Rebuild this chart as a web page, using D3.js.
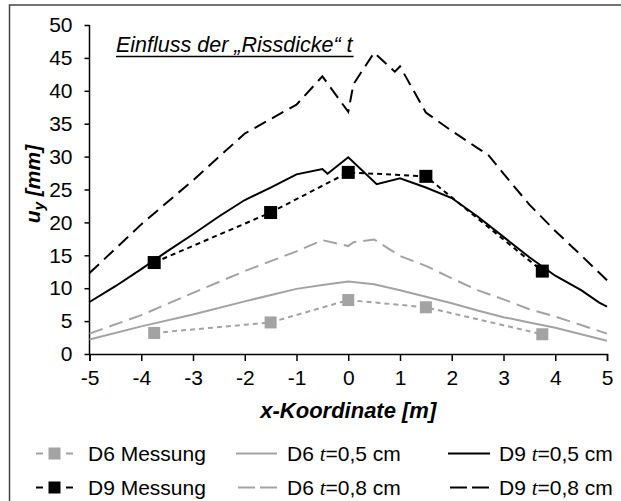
<!DOCTYPE html>
<html>
<head>
<meta charset="utf-8">
<script src="https://cdn.jsdelivr.net/npm/d3@7"></script>
<style>
  html, body { margin: 0; padding: 0; background: #fff; }
  svg { display: block; }
  text { font-family: "Liberation Sans", Arial, sans-serif; fill: #000; }
</style>
</head>
<body>
<svg id="chart" width="621" height="501"></svg>
<script>
// Vertical displacement u_y along the x-coordinate, D6 and D9
const xTicks = [-5, -4, -3, -2, -1, 0, 1, 2, 3, 4, 5];
const yTicks = [0, 5, 10, 15, 20, 25, 30, 35, 40, 45, 50];

// Measurements
const messX = [-3.75, -1.5, 0, 1.5, 3.75];
const d6Mess = [3.2, 4.8, 8.2, 7.1, 3.0];
const d9Mess = [13.9, 21.5, 27.6, 27.0, 12.6];

// D6, t = 0,5 cm
const d6t05X = [-5, -4, -3, -2, -1, -0.5, 0, 0.5, 1, 1.5, 2, 2.5, 3, 3.5, 4, 4.5, 5];
const d6t05Y = [2.2, 4.2, 6.0, 8.0, 9.9, 10.5, 11.0, 10.6, 9.7, 8.7, 7.7, 6.6, 5.6, 4.8, 4.0, 3.0, 2.0];

// D6, t = 0,8 cm
const d6t08X = [-5, -4, -3, -2, -1, -0.5, 0, 0.1, 0.5, 1, 1.5, 2, 2.5, 3, 3.5, 4, 4.5, 5];
const d6t08Y = [3.1, 5.9, 9.3, 12.6, 15.6, 17.3, 16.4, 17.0, 17.4, 14.9, 13.4, 11.5, 9.7, 8.3, 6.8, 5.7, 4.4, 3.1];

// D9, t = 0,5 cm
const d9t05X = [-5, -4.5, -4, -3.5, -3, -2.5, -2, -1.5, -1, -0.5, -0.4, 0, 0.55, 1, 1.5, 2, 2.5, 3, 3.5, 4, 4.5, 4.85, 5];
const d9t05Y = [7.9, 10.3, 12.9, 15.6, 18.2, 20.9, 23.4, 25.3, 27.3, 28.1, 27.4, 29.9, 25.8, 26.7, 25.3, 23.7, 20.9, 17.8, 14.7, 11.9, 9.7, 7.8, 7.2];

// D9, t = 0,8 cm
const d9t08X = [-5, -4, -3, -2, -1, -0.5, 0, 0.1, 0.5, 0.9, 1, 1.5, 2, 2.5, 2.7, 3, 3.5, 4, 4.5, 5];
const d9t08Y = [12.3, 19.7, 26.4, 33.5, 37.9, 42.2, 36.8, 41.0, 45.8, 42.9, 43.7, 36.7, 33.9, 31.3, 30.3, 27.4, 22.7, 18.7, 15.0, 11.2];

const GREY = "#a3a3a3";
const BLACK = "#000";

const svg = d3.select("#chart");

// outer frame
svg.append("rect")
  .attr("x", 9.5).attr("y", 5)
  .attr("width", 640).attr("height", 520)
  .attr("fill", "none").attr("stroke", "#444").attr("stroke-width", 1.5);

const x = d3.scaleLinear().domain([-5, 5]).range([89.5, 607]);
const y = d3.scaleLinear().domain([0, 50]).range([354, 25]);

// axes
const yAxis = d3.axisLeft(y).tickValues(yTicks).tickSize(5).tickPadding(12).tickFormat(d3.format("d"));
const gy = svg.append("g").attr("transform", `translate(${x(-5)},0)`).call(yAxis);
gy.select(".domain").attr("stroke", BLACK).attr("stroke-width", 1.5);
gy.selectAll(".tick line").attr("stroke", BLACK).attr("stroke-width", 1.5);
gy.selectAll(".tick text").attr("font-size", 21).attr("font-family", "Liberation Sans, Arial, sans-serif");

const xAxis = d3.axisBottom(x).tickValues(xTicks).tickSize(7).tickPadding(9).tickFormat(d3.format("d"));
const gx = svg.append("g").attr("transform", `translate(0,${y(0)})`).call(xAxis);
gx.select(".domain").attr("stroke", BLACK).attr("stroke-width", 1.5);
gx.selectAll(".tick line").attr("stroke", BLACK).attr("stroke-width", 1.5);
gx.selectAll(".tick text").attr("font-size", 21).attr("font-family", "Liberation Sans, Arial, sans-serif")
  .text(d => d < 0 ? "-" + Math.abs(d) : String(d));
gy.selectAll(".domain").attr("d", `M0,${y(50)}V${y(0)}`);

// lines
const line = d3.line().x(d => x(d[0])).y(d => y(d[1]));
function series(xs, ys) { return xs.map((v, i) => [v, ys[i]]); }

const plot = svg.append("g");
plot.append("path").datum(series(d6t05X, d6t05Y)).attr("d", line)
  .attr("fill", "none").attr("stroke", GREY).attr("stroke-width", 2);
plot.append("path").datum(series(d6t08X, d6t08Y)).attr("d", line)
  .attr("fill", "none").attr("stroke", GREY).attr("stroke-width", 2).attr("stroke-dasharray", "14,7");
plot.append("path").datum(series(d9t08X, d9t08Y)).attr("d", line)
  .attr("fill", "none").attr("stroke", BLACK).attr("stroke-width", 2).attr("stroke-dasharray", "13,7");
plot.append("path").datum(series(d9t05X, d9t05Y)).attr("d", line)
  .attr("fill", "none").attr("stroke", BLACK).attr("stroke-width", 2);

plot.append("path").datum(series(messX, d6Mess)).attr("d", line)
  .attr("fill", "none").attr("stroke", GREY).attr("stroke-width", 2).attr("stroke-dasharray", "5,4");
plot.append("path").datum(series(messX, d9Mess)).attr("d", line)
  .attr("fill", "none").attr("stroke", BLACK).attr("stroke-width", 2).attr("stroke-dasharray", "5,4");

const SQ = 13;
plot.selectAll("rect.d6").data(series(messX, d6Mess)).join("rect").attr("class", "d6")
  .attr("x", d => x(d[0]) - 6).attr("y", d => y(d[1]) - 6)
  .attr("width", 12).attr("height", 12).attr("fill", GREY);
plot.selectAll("rect.d9").data(series(messX, d9Mess)).join("rect").attr("class", "d9")
  .attr("x", d => x(d[0]) - SQ / 2).attr("y", d => y(d[1]) - SQ / 2)
  .attr("width", SQ).attr("height", SQ).attr("fill", BLACK);

// title
const title = svg.append("text")
  .attr("x", 116).attr("y", 51.5)
  .attr("font-size", 21.5).attr("font-style", "italic")
  .text("Einfluss der „Rissdicke“ t");
const tb = title.node().getBBox();
svg.append("line")
  .attr("x1", tb.x).attr("x2", tb.x + tb.width)
  .attr("y1", 56.5).attr("y2", 56.5)
  .attr("stroke", "#000").attr("stroke-width", 1.6);

// axis titles
const yl = svg.append("text")
  .attr("transform", `translate(40,184) rotate(-90)`)
  .attr("text-anchor", "middle")
  .attr("font-size", 21).attr("font-weight", "bold").attr("font-style", "italic");
yl.append("tspan").text("u");
yl.append("tspan").attr("font-size", 15).attr("dy", 4).text("y");
yl.append("tspan").attr("dy", -4).text(" [mm]");

svg.append("text")
  .attr("x", x(0)).attr("y", 418)
  .attr("text-anchor", "middle")
  .attr("font-size", 22).attr("font-weight", "bold").attr("font-style", "italic")
  .text("x-Koordinate [m]");

// legend
const legendItems = [
  { label: "D6 Messung", color: GREY, kind: "mess", col: 0, row: 0 },
  { label: "D9 Messung", color: BLACK, kind: "mess", col: 0, row: 1 },
  { label: "D6 ", t: "0,5 cm", color: GREY, kind: "solid", col: 1, row: 0 },
  { label: "D6 ", t: "0,8 cm", color: GREY, kind: "dash", col: 1, row: 1 },
  { label: "D9 ", t: "0,5 cm", color: BLACK, kind: "solid", col: 2, row: 0 },
  { label: "D9 ", t: "0,8 cm", color: BLACK, kind: "dash", col: 2, row: 1 }
];
const colSym = [[36, 73], [236, 277], [448, 490]];
const colText = [88, 287, 499];
const rowSym = [453.5, 487.5];
const rowText = [461, 495];

const lg = svg.append("g");
legendItems.forEach(it => {
  const [x1, x2] = colSym[it.col];
  const ys = rowSym[it.row];
  const l = lg.append("line").attr("x1", x1).attr("x2", x2).attr("y1", ys).attr("y2", ys)
    .attr("stroke", it.color).attr("stroke-width", 2);
  if (it.kind === "mess") {
    l.attr("stroke-dasharray", "7,23");
    lg.append("rect").attr("x", (x1 + x2) / 2 - 6).attr("y", ys - 6)
      .attr("width", 12).attr("height", 12).attr("fill", it.color);
  } else if (it.kind === "dash") {
    l.attr("x1", x1 + 2).attr("stroke-dasharray", "17,5");
  }
  const tx = lg.append("text").attr("x", colText[it.col]).attr("y", rowText[it.row]).attr("font-size", 21);
  tx.append("tspan").text(it.label);
  if (it.t) {
    tx.append("tspan").attr("font-family", "Liberation Serif, serif").attr("font-style", "italic").text("t");
    tx.append("tspan").text("=" + it.t);
  }
});
</script>
</body>
</html>
